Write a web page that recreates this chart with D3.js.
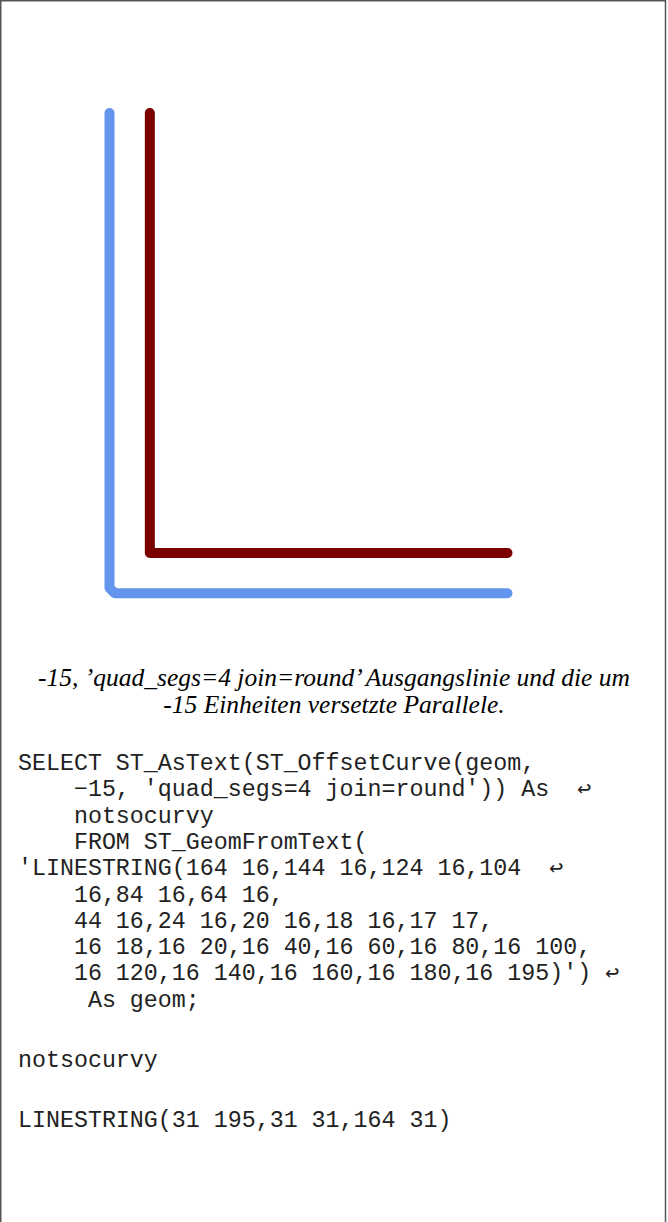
<!DOCTYPE html>
<html>
<head>
<meta charset="utf-8">
<script src="https://cdn.jsdelivr.net/npm/d3@7"></script>
<style>
  html, body { margin: 0; padding: 0; background: #fff; }
  svg { display: block; }
  .caption { font-family: "Liberation Serif", "Times New Roman", serif; font-style: italic; font-size: 25.5px; fill: #000; }
  .code { font-family: "Liberation Mono", "Courier New", monospace; font-size: 23.3px; fill: #222; white-space: pre; }
</style>
</head>
<body>
<div id="vis"></div>
<script>
// input linestring (the base line)
var baseLine = [
  [164, 16], [144, 16], [124, 16], [104, 16], [84, 16], [64, 16],
  [44, 16], [24, 16], [20, 16], [18, 16], [17, 17],
  [16, 18], [16, 20], [16, 40], [16, 60], [16, 80], [16, 100],
  [16, 120], [16, 140], [16, 160], [16, 180], [16, 195]
];

// ST_OffsetCurve result, -15 units
var offsetLine = [[31, 195], [31, 31], [164, 31]];

var captionLines = [
  "-15, \u2019quad_segs=4 join=round\u2019 Ausgangslinie und die um",
  "-15 Einheiten versetzte Parallele."
];

var codeLines = [
  "SELECT ST_AsText(ST_OffsetCurve(geom,",
  "    \u221215, 'quad_segs=4 join=round')) As  \u21A9",
  "    notsocurvy",
  "    FROM ST_GeomFromText(",
  "'LINESTRING(164 16,144 16,124 16,104  \u21A9",
  "    16,84 16,64 16,",
  "    44 16,24 16,20 16,18 16,17 17,",
  "    16 18,16 20,16 40,16 60,16 80,16 100,",
  "    16 120,16 140,16 160,16 180,16 195)') \u21A9",
  "     As geom;"
];

var resultLines = ["notsocurvy", "LINESTRING(31 195,31 31,164 31)"];

var width = 668;
var height = 1222;

var svg = d3.select('#vis')
  .append('svg')
  .attr('width', width)
  .attr('height', height);

// soft edges like the scaled bitmap
var defs = svg.append('defs');
defs.append('filter')
  .attr('id', 'soft')
  .append('feGaussianBlur')
  .attr('stdDeviation', 0.7);

// frame (no bottom edge, it is cut off)
svg.append('path')
  .attr('d', 'M0.75,' + height + ' V0.75 H665.5 V' + height)
  .attr('fill', 'none')
  .attr('stroke', '#555')
  .attr('stroke-width', 1.5);

// scales: geometry units to pixels
var x = d3.scaleLinear().domain([16, 164]).range([109.5, 507.5]);
var y = d3.scaleLinear().domain([16, 195]).range([593.3, 113]);

var line = d3.line()
  .x(function (d) { return x(d[0]); })
  .y(function (d) { return y(d[1]); });

var plot = svg.append('g').attr('filter', 'url(#soft)');

plot.append('path')
  .datum(baseLine)
  .attr('d', line)
  .attr('fill', 'none')
  .attr('stroke', '#6495ed')
  .attr('stroke-width', 10)
  .attr('stroke-linecap', 'round')
  .attr('stroke-linejoin', 'round');

plot.append('path')
  .datum(offsetLine)
  .attr('d', line)
  .attr('fill', 'none')
  .attr('stroke', '#7a0000')
  .attr('stroke-width', 10)
  .attr('stroke-linecap', 'round')
  .attr('stroke-linejoin', 'round');

// caption
svg.selectAll('.caption')
  .data(captionLines)
  .enter().append('text')
  .attr('class', 'caption')
  .attr('x', width / 2)
  .attr('y', function (d, i) { return 686 + i * 27; })
  .attr('text-anchor', 'middle')
  .text(function (d) { return d; });

// program listing
svg.selectAll('.code-line')
  .data(codeLines)
  .enter().append('text')
  .attr('class', 'code code-line')
  .attr('x', 18)
  .attr('y', function (d, i) { return 770 + i * 26.3; })
  .text(function (d) { return d; });

// result
svg.selectAll('.result-line')
  .data(resultLines)
  .enter().append('text')
  .attr('class', 'code result-line')
  .attr('x', 18)
  .attr('y', function (d, i) { return 1067 + i * 60; })
  .text(function (d) { return d; });
</script>
</body>
</html>
